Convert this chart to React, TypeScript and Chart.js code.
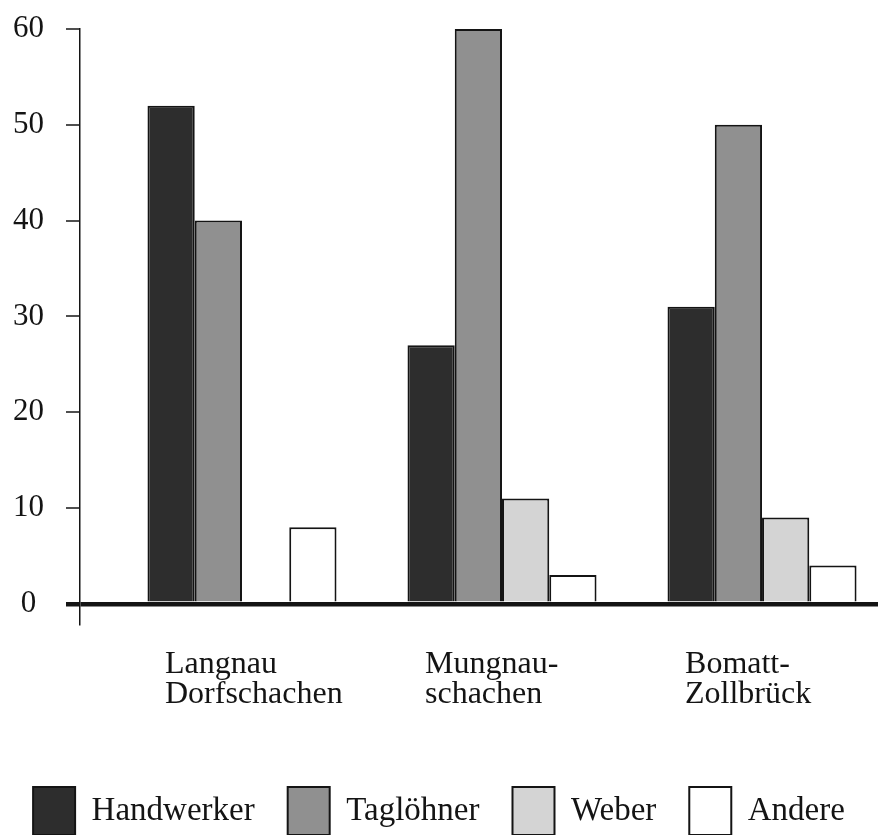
import React, { useEffect, useRef } from "react";
import { Chart, registerables } from "chart.js";

Chart.register(...registerables);

const categories: string[][] = [
  ["Langnau", "Dorfschachen"],
  ["Mungnau-", "schachen"],
  ["Bomatt-", "Zollbrück"],
];
const handwerker: (number | null)[] = [52, 27, 31];
const tagloehner: (number | null)[] = [40, 60, 50];
const weber: (number | null)[] = [null, 11, 9];
const andere: (number | null)[] = [8, 3, 4];
const yTicks: number[] = [0, 10, 20, 30, 40, 50, 60];

const FONT = "'Liberation Serif', 'DejaVu Serif', serif";
const INK = "#141414";

const toPoints = (arr: (number | null)[]) => arr.map((v, i) => ({ x: i, y: v }));

export default function App() {
  const ref = useRef<HTMLCanvasElement | null>(null);

  useEffect(() => {
    if (!ref.current) return;
    const chart = new Chart(ref.current, {
      type: "bar",
      data: {
        datasets: [
          { label: "Handwerker", data: toPoints(handwerker), backgroundColor: "#2d2d2d" },
          { label: "Taglöhner", data: toPoints(tagloehner), backgroundColor: "#909090" },
          { label: "Weber", data: toPoints(weber), backgroundColor: "#d4d4d4" },
          { label: "Andere", data: toPoints(andere), backgroundColor: "#ffffff" },
        ].map((d) => ({
          ...d,
          borderColor: INK,
          borderWidth: 2,
          categoryPercentage: 0.727,
          barPercentage: 1,
        })) as any,
      },
      options: {
        responsive: false,
        animation: false,
        devicePixelRatio: 1,
        layout: { padding: { top: 29, left: 0, right: 0, bottom: -10 } },
        plugins: {
          tooltip: { enabled: false },
          legend: {
            position: "bottom",
            labels: {
              font: { family: FONT, size: 33 },
              color: INK,
              boxWidth: 42,
              boxHeight: 48,
              padding: 33,
            },
          },
        },
        scales: {
          x: {
            type: "linear",
            offset: false,
            min: -0.623,
            max: 2.446,
            afterBuildTicks: (scale: any) => {
              scale.ticks = categories.map((_, i) => ({ value: i }));
            },
            afterFit: (scale: any) => {
              scale.height = 131;
              scale.paddingLeft = 0;
              scale.paddingRight = 0;
            },
            grid: { display: false, drawTicks: false, offset: false },
            border: { display: false },
            ticks: {
              autoSkip: false,
              maxRotation: 0,
              align: "start",
              labelOffset: -77,
              padding: 26,
              color: INK,
              font: { family: FONT, size: 32, lineHeight: 0.95 },
              callback: (value: any) => categories[value as number] ?? "",
            },
          },
          y: {
            min: -2,
            max: 60,
            afterBuildTicks: (scale: any) => {
              scale.ticks = yTicks.map((v) => ({ value: v }));
            },
            afterFit: (scale: any) => {
              scale.width = 80;
              scale.paddingTop = 0;
              scale.paddingBottom = 0;
            },
            grid: {
              drawOnChartArea: true,
              drawTicks: true,
              tickLength: 14,
              color: (ctx: any) => (ctx.tick && ctx.tick.value === 0 ? INK : "rgba(0,0,0,0)"),
              lineWidth: (ctx: any) => (ctx.tick && ctx.tick.value === 0 ? 4.5 : 0),
              tickColor: INK,
              tickWidth: (ctx: any) => (ctx.tick && ctx.tick.value === 0 ? 4.5 : 1.5),
            },
            border: { display: true, color: INK, width: 1.5 },
            ticks: {
              crossAlign: "center",
              padding: 22,
              color: INK,
              font: { family: FONT, size: 31 },
            },
          },
        },
      } as any,
    });
    return () => chart.destroy();
  }, []);

  return (
    <div style={{ position: "fixed", left: 0, top: 0, width: 878, height: 835, background: "#fff" }}>
      <canvas ref={ref} width={878} height={835} />
    </div>
  );
}
